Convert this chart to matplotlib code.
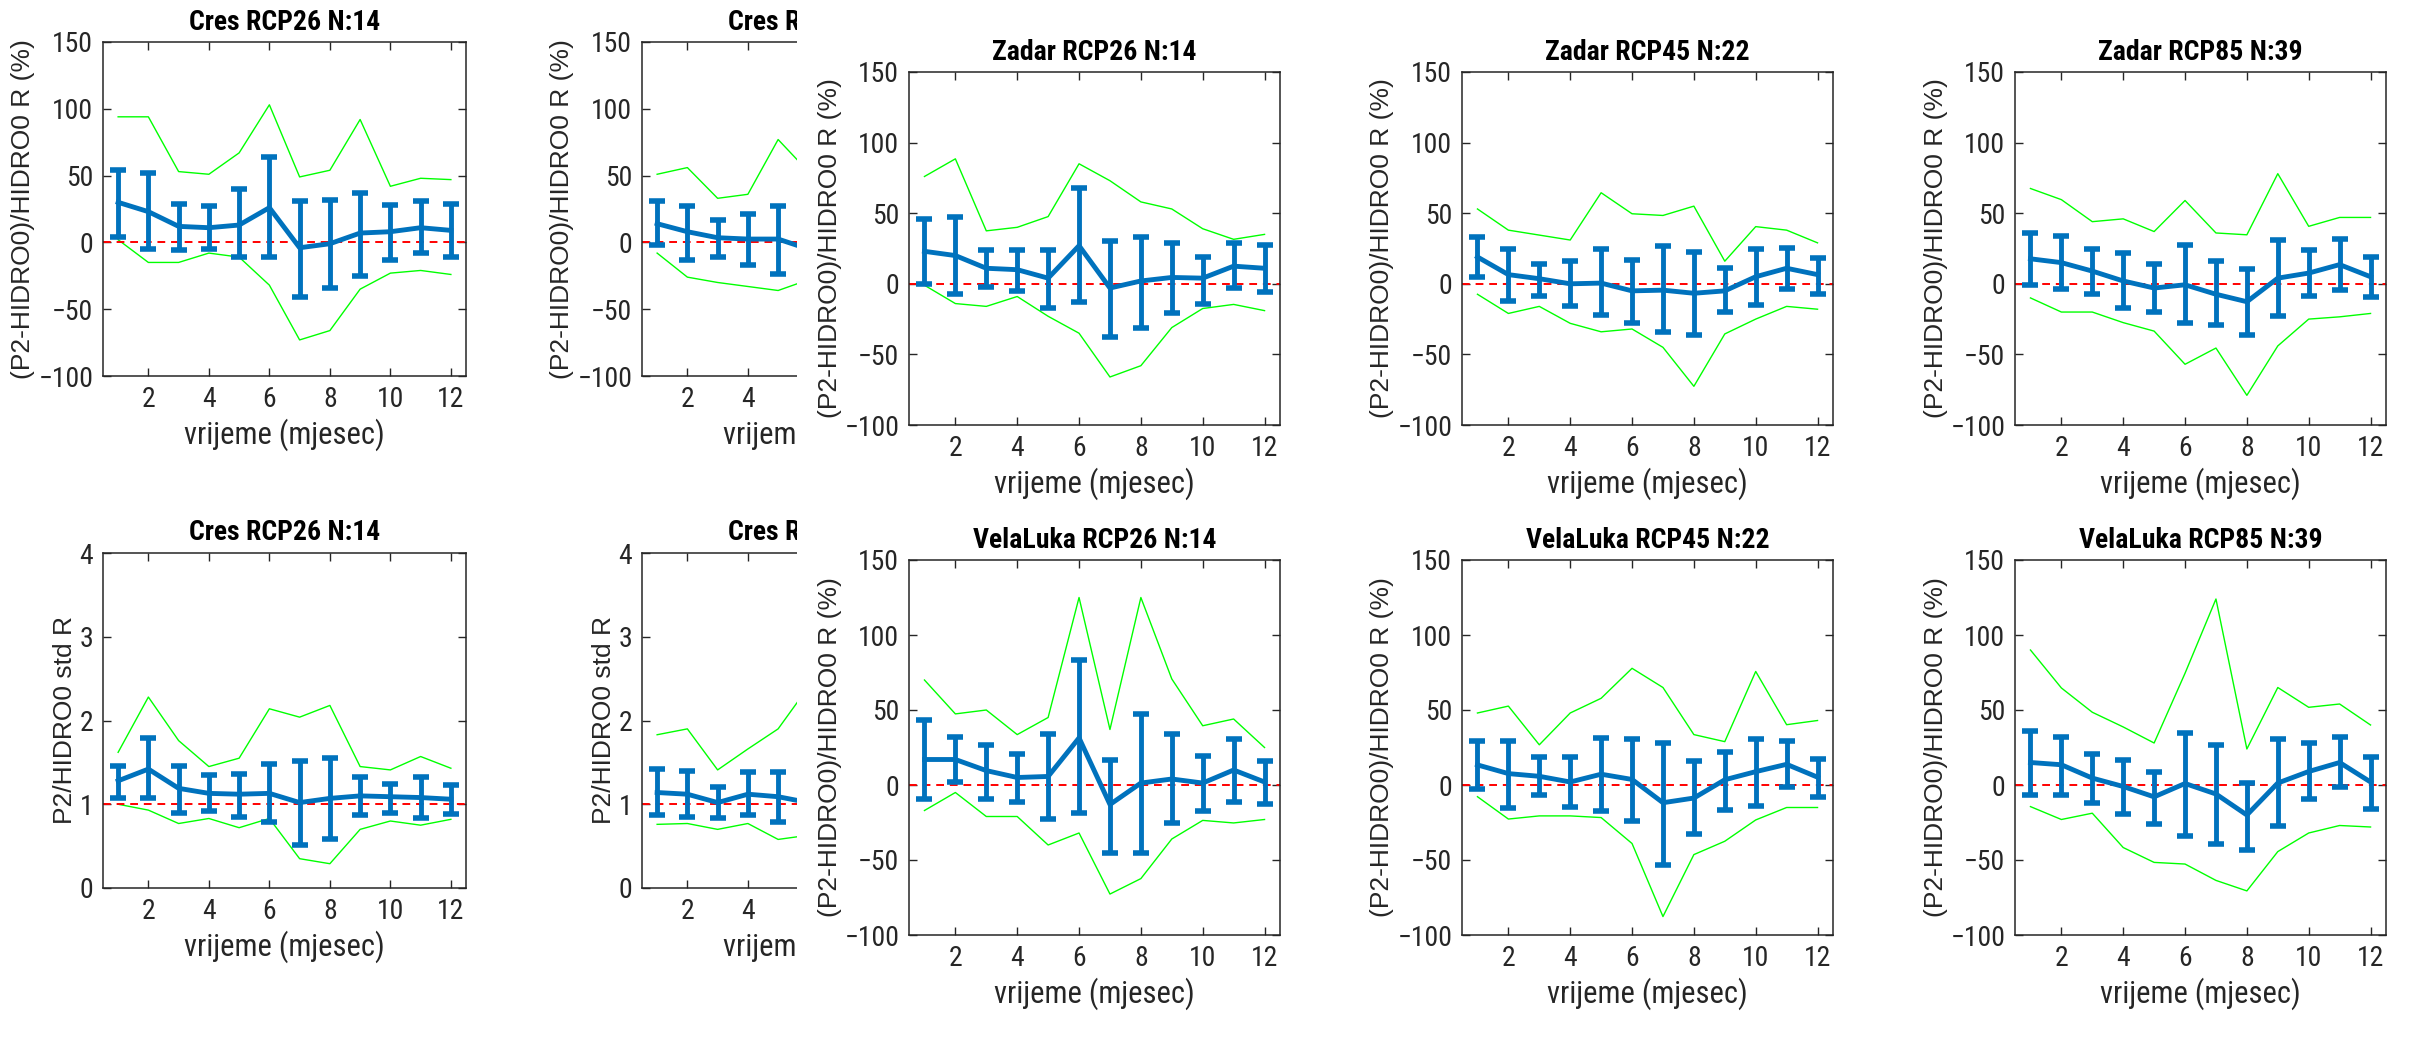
import numpy as np
import matplotlib
matplotlib.use('Agg')
import matplotlib.pyplot as plt

# narrow sans, the screenshot text is squeezed sideways
plt.rcParams['font.family'] = ['Roboto Condensed', 'IBM Plex Sans Condensed', 'DejaVu Sans']

months = np.arange(1, 13)
xticks = [2, 4, 6, 8, 10, 12]

# ---- Cres (background figure) ----
cres26_mean = [30, 23, 12, 11, 13, 26, -4, -1, 7, 8, 11, 9]
cres26_hi = [54, 52, 29, 27, 40, 64, 31, 32, 37, 28, 31, 29]
cres26_lo = [4, -5, -6, -5, -11, -11, -41, -34, -25, -13, -8, -11]
cres26_max = [94, 94, 53, 51, 67, 103, 49, 54, 92, 42, 48, 47]
cres26_min = [2, -15, -15, -8, -11, -32, -73, -66, -35, -23, -21, -24]

# only the first months of the RCP45 panel are visible
cres45_mean = [14, 8, 3.5, 2.5, 2.5, -5]
cres45_hi = [31, 27, 16.5, 21, 27, 20]
cres45_lo = [-2, -13, -11, -17, -24, -25]
cres45_max = [51, 56, 33, 36, 77, 53]
cres45_min = [-8, -26, -30, -33, -36, -28]

cres26_std_mean = [1.28, 1.42, 1.19, 1.13, 1.12, 1.13, 1.02, 1.07, 1.10, 1.09, 1.08, 1.06]
cres26_std_hi = [1.46, 1.79, 1.46, 1.35, 1.36, 1.48, 1.52, 1.55, 1.33, 1.24, 1.32, 1.23]
cres26_std_lo = [1.08, 1.08, 0.90, 0.92, 0.85, 0.79, 0.51, 0.58, 0.87, 0.90, 0.83, 0.88]
cres26_std_max = [1.62, 2.28, 1.76, 1.45, 1.55, 2.14, 2.04, 2.18, 1.45, 1.41, 1.57, 1.43]
cres26_std_min = [1.00, 0.93, 0.77, 0.83, 0.72, 0.83, 0.35, 0.29, 0.70, 0.80, 0.75, 0.82]

cres45_std_mean = [1.14, 1.12, 1.02, 1.12, 1.09, 1.02]
cres45_std_hi = [1.42, 1.40, 1.21, 1.38, 1.38, 1.30]
cres45_std_lo = [0.87, 0.85, 0.83, 0.87, 0.79, 0.75]
cres45_std_max = [1.83, 1.90, 1.41, 1.66, 1.90, 2.40]
cres45_std_min = [0.76, 0.77, 0.70, 0.77, 0.58, 0.63]

# ---- Zadar ----
zadar26_mean = [23, 20, 11, 10, 4, 27, -3, 2, 4.5, 4, 12.5, 11]
zadar26_hi = [46, 47, 24, 24, 24, 67.5, 30, 33, 29, 19, 29, 27.5]
zadar26_lo = [0, -7, -2, -5, -17, -13, -38, -31, -21, -14, -3, -5.5]
zadar26_max = [76, 88.5, 37.5, 40, 47.6, 85, 73, 58, 53, 39, 31.5, 35]
zadar26_min = [-1, -14, -16, -9, -23, -35, -66, -58, -31, -17.5, -14.6, -19]

zadar45_mean = [19, 6.5, 3.6, 0, 0.5, -5, -4.5, -6.7, -5, 5, 11, 6.5]
zadar45_hi = [33, 24.5, 14, 16, 24.5, 17, 27, 22.5, 11, 24.5, 25.6, 18]
zadar45_lo = [5, -12, -8.6, -16, -22, -27.6, -34, -36, -20, -15, -3.6, -7.4]
zadar45_max = [53, 38, 34.5, 31, 64.5, 49.6, 48.4, 55, 16, 40.5, 38, 29]
zadar45_min = [-7.4, -21, -16, -28, -34, -32, -45, -72.6, -35.5, -25, -16, -18]

zadar85_mean = [17.7, 15, 9, 2, -3, -0.7, -7.4, -12.7, 4, 7.6, 13.6, 5]
zadar85_hi = [36, 34, 24.4, 21.5, 14, 27.5, 16, 10.8, 31, 23.7, 32, 19]
zadar85_lo = [-1, -4, -7.4, -17, -20, -28, -29.4, -36, -23, -8.4, -4.3, -9.6]
zadar85_max = [67.5, 59.6, 44, 46, 37, 59, 36, 34.7, 78, 40.7, 47, 47]
zadar85_min = [-10, -20, -20, -27.5, -33.5, -57, -45.5, -79, -44, -25, -23.4, -21]

# ---- VelaLuka ----
vela26_mean = [17, 17, 9.6, 5, 5.7, 31.4, -13, 1.3, 4, 1.3, 10, 2]
vela26_hi = [43.4, 32, 27, 20.5, 34, 83.4, 16.8, 47.4, 34, 19.4, 30.8, 16]
vela26_lo = [-9.6, 2, -9.6, -11.6, -22.5, -18.8, -45, -45, -25, -17, -11, -12.7]
vela26_max = [70, 47.4, 50, 33.6, 45, 125, 37, 125, 70.7, 39.5, 44, 25]
vela26_min = [-17, -5, -21, -21, -40, -32, -72.7, -62.4, -36, -23.6, -25.3, -23]

vela45_mean = [13.4, 7.6, 5.8, 2, 7.2, 3.7, -11.8, -8.7, 3.5, 8.9, 13.8, 5.2]
vela45_hi = [29.5, 29.5, 19, 19, 31.4, 30.5, 28.3, 15.9, 22, 30.5, 29.5, 17.5]
vela45_lo = [-2.7, -15.5, -6.6, -14.4, -17.5, -24, -53, -32.4, -16.5, -13.8, -1.4, -8.3]
vela45_max = [48, 52.6, 26.8, 48, 57.8, 77.8, 65, 33.6, 28.9, 75.7, 40.2, 43]
vela45_min = [-7.8, -22.7, -20.6, -20.6, -21.7, -39, -87.7, -46.4, -37.5, -23.3, -15, -15]

vela85_mean = [15, 13.5, 4.6, -1, -7.9, 1, -6, -20, 1.3, 9, 15, 2]
vela85_hi = [36, 32, 20.5, 17, 9, 35, 27, 1.3, 30.8, 28, 32, 18.4]
vela85_lo = [-6.8, -6.8, -11.8, -19, -25.8, -34, -39, -43.5, -27.5, -9.6, -1.3, -16]
vela85_max = [90, 64.7, 48.5, 38.7, 28, 74.5, 124, 24, 65, 51.8, 54, 40]
vela85_min = [-14.4, -23, -18.8, -41.7, -51.6, -52.7, -63.6, -70.6, -44.4, -32, -27, -28]

W, H = 2409, 1058
fig = plt.figure(figsize=(W / 100, H / 100), dpi=100)

BLUE = '#0072bd'
GREEN = '#00ff00'
DARK = '#262626'
ylab_rel = '(P2-HIDRO0)/HIDRO0 R (%)'
ylab_std = 'P2/HIDRO0 std R'
COVER_X = 797  # left edge of the second window, in pixels


def panel(px, title, mean, hi, lo, top, bot, ylabel, std=False, z=1, cut=False):
    # px = (left, top, right, bottom) in pixels of the final picture
    l, t, r, b = px
    ax = fig.add_axes([l / W, 1 - b / H, (r - l) / W, (b - t) / H], zorder=z)
    x = np.arange(1, len(mean) + 1)
    mean = np.array(mean)
    ref = 1 if std else 0
    ax.plot(x, top, color=GREEN, lw=1.0)
    ax.plot(x, bot, color=GREEN, lw=1.0)
    ax.axhline(ref, color='red', ls=(0, (4, 3)), lw=1.4)
    ax.errorbar(x, mean, yerr=[mean - np.array(lo), np.array(hi) - mean],
                color=BLUE, lw=3.5, elinewidth=3.5, capsize=6, capthick=4)
    ax.set_xlim(0.5, 12.5)
    if std:
        ax.set_ylim(0, 4)
        ax.set_yticks([0, 1, 2, 3, 4])
    else:
        ax.set_ylim(-100, 150)
        ax.set_yticks([-100, -50, 0, 50, 100, 150])
    ax.set_xticks(xticks)
    ax.tick_params(direction='in', top=True, right=True, length=6, width=1,
                   color=DARK, labelcolor=DARK, labelsize=20, pad=7)
    for s in ax.spines.values():
        s.set_color(DARK)
        s.set_linewidth(1.1)
    ttl = ax.set_title(title, fontsize=20, fontweight='bold', pad=9)
    xl = ax.set_xlabel('vrijeme (mjesec)', fontsize=22, color=DARK, labelpad=4)
    ax.set_ylabel(ylabel, fontsize=19, color=DARK, labelpad=2,
                  family=['Liberation Sans', 'DejaVu Sans'])
    if cut:
        # texts of the half hidden panel stop where the other window starts
        from matplotlib.transforms import Bbox, TransformedBbox
        box = TransformedBbox(Bbox([[0, 0], [COVER_X / W, 1]]), fig.transFigure)
        for txt in (ttl, xl):
            txt.set_clip_box(box)
            txt.set_clip_on(True)
    return ax


# background figure with the Cres panels
panel((103, 42, 466, 376), 'Cres RCP26 N:14', cres26_mean, cres26_hi, cres26_lo,
      cres26_max, cres26_min, ylab_rel)
panel((642, 42, 1005, 376), 'Cres RCP45 N:22', cres45_mean, cres45_hi, cres45_lo,
      cres45_max, cres45_min, ylab_rel, cut=True)
panel((103, 553, 466, 888), 'Cres RCP26 N:14', cres26_std_mean, cres26_std_hi,
      cres26_std_lo, cres26_std_max, cres26_std_min, ylab_std, std=True)
panel((642, 553, 1005, 888), 'Cres RCP45 N:22', cres45_std_mean, cres45_std_hi,
      cres45_std_lo, cres45_std_max, cres45_std_min, ylab_std, std=True, cut=True)

# second figure window lying on top of it
cover = fig.add_axes([COVER_X / W, 0, 1 - COVER_X / W, 1], zorder=5)
cover.axis('off')
cover.add_patch(plt.Rectangle((0, 0), 1, 1, transform=cover.transAxes,
                              facecolor='white', edgecolor='none'))

cols = [909, 1462, 2015]
wd = 371
zadar = [('Zadar RCP26 N:14', zadar26_mean, zadar26_hi, zadar26_lo, zadar26_max, zadar26_min),
         ('Zadar RCP45 N:22', zadar45_mean, zadar45_hi, zadar45_lo, zadar45_max, zadar45_min),
         ('Zadar RCP85 N:39', zadar85_mean, zadar85_hi, zadar85_lo, zadar85_max, zadar85_min)]
vela = [('VelaLuka RCP26 N:14', vela26_mean, vela26_hi, vela26_lo, vela26_max, vela26_min),
        ('VelaLuka RCP45 N:22', vela45_mean, vela45_hi, vela45_lo, vela45_max, vela45_min),
        ('VelaLuka RCP85 N:39', vela85_mean, vela85_hi, vela85_lo, vela85_max, vela85_min)]

for c, d in zip(cols, zadar):
    panel((c, 72, c + wd, 425), *d, ylab_rel, z=6)
for c, d in zip(cols, vela):
    panel((c, 560, c + wd, 935), *d, ylab_rel, z=6)

fig.savefig('out.png', dpi=100, facecolor='white')
